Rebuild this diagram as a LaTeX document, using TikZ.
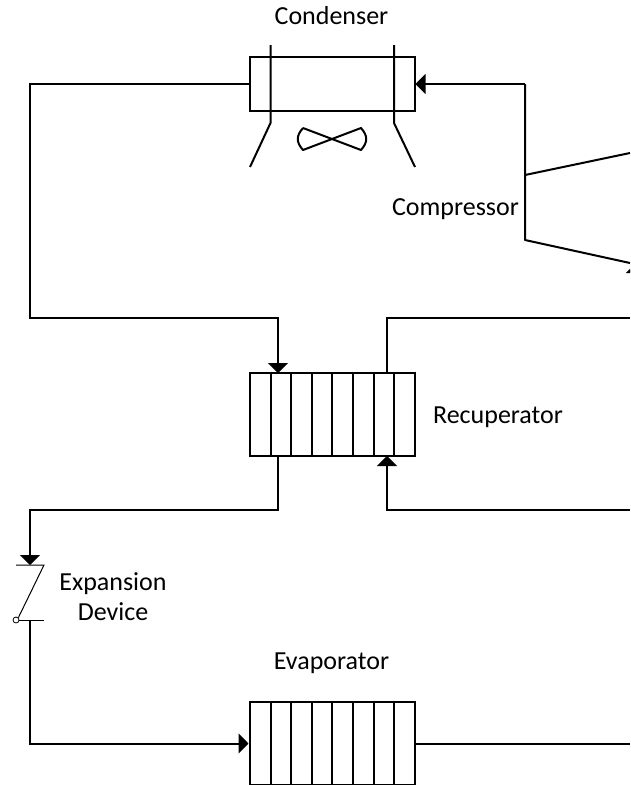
\documentclass[tikz,border=0pt]{standalone}
\usepackage{fontspec}
\setmainfont{Carlito}
\usetikzlibrary{arrows.meta, positioning, calc}

\begin{document}
\begin{tikzpicture}[x=1pt, y=-1pt, >={Triangle[length=10pt,width=20pt]}, line width=2pt,
  every node/.style={font=\fontsize{26}{30}\selectfont, line width=2pt},
  unit/.style={rectangle,draw,inner sep=0pt,minimum width=165pt,minimum height=83pt},
  flow/.style={->,line width=2pt}]

\useasboundingbox (0,0) rectangle (630,785);
\clip (0,0) rectangle (630,785);

% Labels
\node (lcond) at (331.5,16) {Condenser};
\node (lcomp) at (455.5,209) {Compressor};
\node (lrec) at (498,417) {Recuperator};
\node[align=center] (lexp) at (113,597) {Expansion\\Device};
\node (leva) at (331.5,663) {Evaporator};

% Condenser
\node[unit,minimum height=54pt] (cond) at (332,84) {};
\coordinate (cl1) at (270.5,45);
\coordinate (cl2) at (270.5,123);
\coordinate (cl3) at (250,167);
\coordinate (cr1) at (394,45);
\coordinate (cr2) at (394,123);
\coordinate (cr3) at (415,167);
\draw[line join=round] (cl1) -- (cl2) -- (cl3);
\draw[line join=round] (cr1) -- (cr2) -- (cr3);

% Fan
\coordinate (fan1) at (303,128);
\coordinate (fan2) at (361,150);
\coordinate (fan3) at (361,128);
\coordinate (fan4) at (303,150);
\draw[line join=round] (fan1) -- (fan2) .. controls (368,142) and (368,136) .. (fan3) -- (fan4) .. controls (296,142) and (296,136) .. (fan1);

% Recuperator
\node[unit] (rec) at (332,414.5) {};
\draw (270.5,373) -- (270.5,456);
\draw (291,373) -- (291,456);
\draw (311.5,373) -- (311.5,456);
\draw (332,373) -- (332,456);
\draw (353,373) -- (353,456);
\draw (373.5,373) -- (373.5,456);
\draw (394,373) -- (394,456);

% Evaporator
\node[unit] (eva) at (332,743.5) {};
\draw (270.5,702) -- (270.5,785);
\draw (291,702) -- (291,785);
\draw (311.5,702) -- (311.5,785);
\draw (332,702) -- (332,785);
\draw (353,702) -- (353,785);
\draw (373.5,702) -- (373.5,785);
\draw (394,702) -- (394,785);

% Expansion device
\coordinate (extop) at (30,565);
\coordinate (exbot) at (30,620);
\node[circle,draw,line width=0.8pt,inner sep=0pt,minimum size=6pt] (exhinge) at (16,620) {};
\draw[line width=1pt] (16,565) -- (44,565) -- (exhinge.north east);
\draw[line width=1pt] (exhinge.east) -- (44,620);

% Compressor
\coordinate (ct) at (525,84);
\coordinate (cm) at (525,175);
\coordinate (cb) at (525,240);
\coordinate (co1) at (630,153);
\coordinate (co2) at (630,263);
\draw[line join=round] (ct) -- (cb) -- (co2);
\draw (cm) -- (co1);

% Connections
\coordinate (c1) at (30,318);
\coordinate (rt) at (278,373);
\coordinate (rb) at (278,456);
\coordinate (rt2) at (387,373);
\coordinate (rb2) at (387,456);
\coordinate (e1) at (30,510);
\coordinate (e2) at (630,510);
\coordinate (e3) at (630,318);
\coordinate (e5) at (630,743.5);
\coordinate (e6) at (636,318);

\draw[flow] (ct) -- (cond.east);
\draw[flow] (cond.west) -| (c1) -| (rt);
\draw (rt2) |- (e3);
\draw[flow] (e2) -| (rb2);
\draw[flow] (rb) |- (e1) -- (extop);
\draw[flow] (exbot) |- (eva.west);
\draw (eva.east) -- (e5);
\draw[flow] (e6) -- (636,263);

\end{tikzpicture}
\end{document}
